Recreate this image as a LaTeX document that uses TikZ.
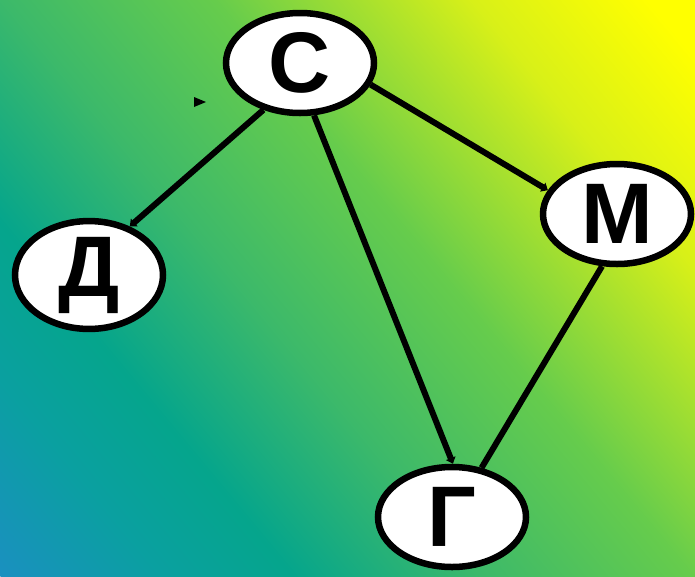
\documentclass[tikz,border=0pt]{standalone}
\usepackage{fontspec}
\setmainfont{Liberation Sans}
\usepackage{xcolor}
\usepackage{tikz}
\usetikzlibrary{shapes.geometric,arrows.meta}
\definecolor{bgyellow}{HTML}{FFFF00}
\definecolor{bglime}{HTML}{D8F018}
\definecolor{bggreen}{HTML}{66CC4C}
\definecolor{bgmid}{HTML}{3CB96A}
\definecolor{bgteal}{HTML}{05A58C}
\definecolor{bgsea}{HTML}{0AA0A0}
\definecolor{bgblue}{HTML}{1A90C0}
\pgfdeclarehorizontalshading{bgshade}{100bp}{color(0bp)=(bgyellow); color(27bp)=(bgyellow);
  color(34.5bp)=(bglime); color(45.5bp)=(bggreen); color(54.5bp)=(bgmid);
  color(62.5bp)=(bgteal); color(68bp)=(bgsea); color(75bp)=(bgblue); color(100bp)=(bgblue)}
\tikzset{
  letter/.style={ellipse, draw, line width=6.5pt, fill=white, minimum width=148pt,
    minimum height=100pt, inner sep=0pt, font=\bfseries\fontsize{86}{90}\selectfont},
  link/.style={line width=6pt},
  arrowlink/.style={link, -{Triangle[length=6pt,width=10pt]}},
}
\begin{document}
\begin{tikzpicture}[x=1pt,y=1pt]
  \useasboundingbox (0,0) rectangle (695,-576);
  % background
  \begin{scope}
    \clip (0,0) rectangle (695,-576);
    \begin{scope}[transform canvas={shift={(695,0)},rotate=219.65}]
      \shade[shading=bgshade] (0,-700) rectangle (902.66,700);
    \end{scope}
  \end{scope}
  % vertices
  \node[letter] (s) at (300,-63) {С};
  \node[letter] (d) at (89,-275) {Д};
  \node[letter] (m) at (617,-214) {М};
  \node[letter] (g) at (452,-517) {Г};
  % edges
  \draw[arrowlink] (s.232) -- (d.50);
  \draw[arrowlink] (s.343) -- (m.161);
  \draw[arrowlink] (s.285) -- (g.89);
  \draw[link] (m.254) -- (g.59);
  \fill (194,-97) -- (206,-102) -- (194,-107) -- cycle;
\end{tikzpicture}
\end{document}
